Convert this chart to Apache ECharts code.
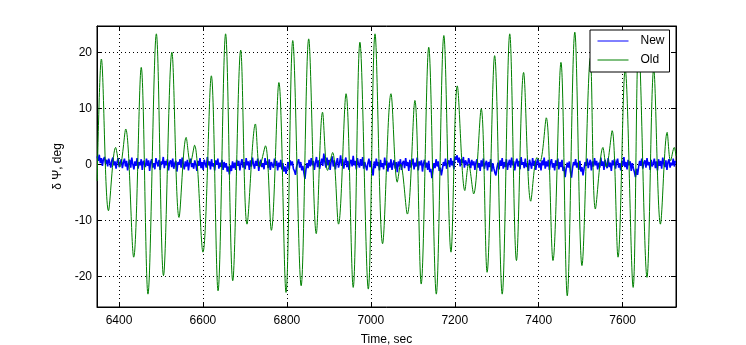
<!DOCTYPE html>
<html>
<head>
<meta charset="utf-8">
<script src="https://cdn.jsdelivr.net/npm/echarts@6/dist/echarts.min.js"></script>
<style>
  html, body { margin: 0; padding: 0; background: #fff; }
  #chart { width: 746px; height: 345px; }
</style>
</head>
<body>
<div id="chart"></div>
<script>
// Heading error of the old controller: turning points (time in s, error in deg)
const oldTime = [
  6348, 6358, 6375, 6392, 6402, 6416, 6435, 6453, 6469, 6489, 6506, 6526, 6543, 6560, 6570, 6580,
  6600, 6620, 6636, 6654, 6671, 6690, 6705, 6725, 6735, 6749, 6763, 6781, 6798, 6814, 6834, 6852,
  6870, 6885, 6897, 6909, 6923, 6941, 6958, 6974, 6994, 7010, 7028, 7048, 7063, 7071, 7087, 7105,
  7120, 7138, 7156, 7174, 7191, 7206, 7224, 7233, 7245, 7263, 7277, 7295, 7313, 7331, 7347, 7364,
  7381, 7396, 7403, 7418, 7434, 7453, 7468, 7486, 7503, 7523, 7535, 7553, 7561, 7575, 7589, 7606,
  7625, 7638, 7658, 7674, 7690, 7706, 7714, 7723, 7727
];
const oldDeg = [
  -3.0, 18.8, -8.3, 3.0, -0.5, 6.3, -16.6, 17.3, -23.2, 23.3, -19.9, 20.0, -9.5, 4.8, 0.2, 3.4,
  -15.7, 15.8, -22.6, 23.3, -20.8, 20.4, -10.7, 7.2, -0.5, 3.3, -11.8, 14.6, -22.9, 22.1, -21.7, 22.4,
  -12.4, 9.3, -1.1, 2.1, -10.7, 12.6, -22.0, 21.8, -22.3, 23.3, -14.2, 12.6, -3.2, 0.0, -8.9, 11.4,
  -21.4, 20.9, -23.2, 23.0, -15.7, 14.0, -4.7, 0.0, -5.3, 9.9, -19.3, 19.4, -23.2, 23.3, -17.2, 16.4,
  -6.6, 1.2, 0.5, 8.3, -17.2, 18.2, -23.5, 23.6, -18.1, 19.0, -8.0, 3.0, -0.5, 6.0, -16.6, 17.0,
  -22.0, 22.0, -20.2, 17.0, -10.7, 5.7, 0.6, 3.0, 1.5
];

// Heading error of the new controller, sampled every 2.5 s from 6348 s
const newStart = 6348;
const newStep = 2.5;
const newDeg = [
  1.4,0.6,1.7,0.2,1.1,-0.3,0.9,1.3,0.1,0.8,-0.4,1.0,0.3,-0.6,0.7,1.2,-0.2,0.5,-0.8,0.4,1.1,-0.5,0.2,0.9,
  -0.7,0.3,1.0,-0.4,0.6,-1.1,0.2,0.8,-0.6,1.2,0.0,-0.9,0.5,-0.3,1.1,-0.8,0.4,-0.2,0.9,-1.0,0.6,0.1,-0.5,1.0,
  -0.3,0.7,-1.2,0.4,0.9,-0.6,0.2,-0.9,1.1,0.3,-0.4,0.8,-1.0,0.5,0.0,1.3,-0.7,0.6,-0.2,0.9,-1.1,0.3,0.7,-0.5,
  1.0,-0.8,0.2,0.6,-1.3,0.4,-0.1,0.9,-0.6,1.2,0.1,-0.9,0.5,-0.4,0.8,-1.1,0.3,1.0,-0.5,0.2,-0.8,0.7,0.0,-1.2,
  0.6,-0.3,1.1,-0.7,0.4,-1.0,0.8,0.1,-0.6,1.3,-0.2,0.5,-0.9,0.9,-0.4,0.2,-1.1,0.7,-0.1,1.0,-0.8,0.3,-0.5,0.8,
  -1.0,0.4,-0.6,0.2,-1.3,-0.4,-1.8,-0.2,-1.2,0.5,-0.7,0.3,-1.0,0.8,-0.3,0.6,-1.1,0.2,0.9,-0.6,0.4,-0.9,1.1,-0.2,
  0.5,-1.0,0.7,-0.4,1.2,0.0,-0.8,0.6,-0.3,1.0,-1.2,0.3,0.8,-0.5,0.2,-0.9,1.1,-0.1,0.5,-0.7,0.9,-1.0,0.4,0.1,
  -0.6,1.0,-0.3,0.6,-1.1,0.3,-0.5,0.8,-0.9,0.2,-1.3,-0.4,-1.7,-0.6,0.4,-1.0,0.7,-0.2,0.5,-0.8,-1.2,-1.9,-0.5,0.3,
  0.9,-0.6,0.4,-1.1,-0.3,-1.5,-2.6,-0.9,0.2,-0.7,0.8,-0.4,1.1,-0.2,0.6,-1.0,0.3,1.3,-0.5,0.7,-0.8,0.2,1.0,-0.3,
  1.9,0.4,-0.6,1.2,-0.2,0.8,-1.0,0.5,1.4,-0.4,0.7,-0.9,0.3,1.1,-0.6,0.2,1.6,-0.3,0.9,-0.8,0.4,1.2,-0.5,0.6,
  -1.0,0.3,0.8,-0.4,1.5,-0.2,0.6,-0.9,1.1,0.1,-0.6,0.9,-0.3,1.3,-0.8,0.4,0.7,-1.1,0.2,1.0,-0.5,0.6,-1.2,-2.0,
  0.5,-0.7,1.0,-0.3,0.4,-1.1,0.8,-0.5,0.2,-0.9,1.2,-0.2,0.6,-1.3,0.3,-0.6,0.9,-1.0,0.1,0.7,-0.8,0.4,-1.4,0.5,
  -0.4,0.9,-1.0,0.2,0.6,-0.7,1.1,-0.3,0.4,-1.2,0.8,-0.6,0.1,1.0,-0.9,0.3,-0.4,1.2,-1.1,0.5,-0.2,0.7,-1.3,0.2,
  0.8,-0.6,0.3,-1.0,0.6,-1.4,-0.8,-2.5,-1.1,0.2,-0.7,0.9,-0.4,0.5,-1.2,-0.6,-2.0,-0.9,0.4,-0.3,1.0,-0.8,0.2,0.7,
  -0.5,1.1,-0.2,0.6,-0.9,1.4,0.8,1.6,0.3,1.2,-0.4,0.9,0.2,1.3,-0.6,0.7,1.0,-0.3,1.1,0.4,-0.7,0.8,-0.2,0.5,
  -1.0,0.3,0.9,-0.6,0.2,-1.2,0.7,-0.4,1.0,-0.8,0.1,0.6,-1.1,0.4,-0.5,0.9,-1.3,0.2,-0.7,-1.5,-2.0,-0.6,0.3,-0.9,
  0.7,-0.3,1.1,-0.8,0.4,-0.5,0.9,-1.0,0.2,0.8,-0.6,1.2,-0.2,0.5,-1.1,0.3,1.0,-0.4,0.6,-0.9,1.3,-0.1,0.4,-0.7,
  1.0,-0.5,0.2,-1.2,0.8,0.1,-0.8,1.1,-0.3,0.6,-1.0,0.4,0.9,-0.6,0.3,-1.1,0.7,-0.2,1.2,-0.8,0.5,-0.4,0.8,-1.0,
  0.3,0.9,-0.6,0.2,-1.1,0.7,-0.3,1.0,-0.9,0.4,-0.5,0.8,-1.2,-0.4,-2.3,-0.8,0.3,-0.6,0.5,-1.3,-2.4,-0.7,0.4,-0.2,
  0.9,-0.6,0.3,-1.0,0.6,-1.3,-0.5,-2.0,-0.8,0.4,-0.3,1.0,-0.7,0.2,0.8,-1.1,0.5,-0.4,1.1,-0.2,0.6,-0.9,0.3,-0.6,
  1.2,-0.3,0.5,-1.0,0.8,0.0,-0.7,1.1,-0.5,0.3,-1.2,0.7,-0.2,0.9,-0.8,0.4,1.0,-0.6,0.2,-1.1,0.6,-0.3,1.3,-0.5,
  0.4,-0.9,0.8,-0.2,0.5,-1.2,0.2,-0.7,-1.4,-2.3,-0.8,-1.9,-0.5,0.6,-0.3,1.0,-0.8,0.3,0.7,-0.6,1.1,-0.2,0.4,-1.0,
  0.8,-0.4,0.2,1.0,-0.7,0.5,-1.1,0.9,-0.3,0.6,-0.8,1.2,0.1,-0.5,0.7,-1.0,0.4,0.9,-0.6,0.3,-0.2,1.0,-0.4,0.6
];

// Axis extents
const xMin = 6347.6, xMax = 7727.1;
const yMin = -25.5, yMax = 24.7;

const FONT = '"Liberation Sans", Arial, Helvetica, sans-serif';
const BLACK = '#000';

const newSeries = newDeg.map((v, i) => [newStart + i * newStep, v]);
const oldSeries = oldTime.map((t, i) => [t, oldDeg[i]]);

const tickStyle = { show: true, inside: true, length: 5, lineStyle: { color: BLACK, width: 1 } };
const lineStyle = { show: true, onZero: false, lineStyle: { color: BLACK, width: 1 } };
const plainNumber = (v) => String(Math.round(v));
const labelStyle = {
  color: BLACK, fontFamily: FONT, fontSize: 12,
  showMinLabel: false, showMaxLabel: false, formatter: plainNumber
};
const dotted = { show: true, lineStyle: { color: BLACK, width: 1, type: [1, 3] } };

const chart = echarts.init(document.getElementById('chart'), null, { renderer: 'canvas' });
chart.setOption({
  animation: false,
  backgroundColor: '#fff',
  grid: {
    left: 97, top: 26, right: 70, bottom: 38,
    outerBoundsMode: 'none', containLabel: false,
    show: true, borderColor: BLACK, borderWidth: 1, backgroundColor: '#fff'
  },
  legend: {
    orient: 'vertical',
    left: 590, top: 30,
    padding: [5, 5, 6, 7],
    itemWidth: 31, itemHeight: 14, itemGap: 7,
    backgroundColor: '#fff', borderColor: BLACK, borderWidth: 1, borderRadius: 0,
    selectedMode: false,
    itemStyle: { color: 'rgba(0,0,0,0)', borderWidth: 0, opacity: 0 },
    lineStyle: { width: 1 },
    textStyle: { color: BLACK, fontFamily: FONT, fontSize: 12, padding: [0, 0, 0, 7] },
    data: ['New', 'Old']
  },
  xAxis: [
    {
      type: 'value', min: xMin, max: xMax, splitNumber: 7, position: 'bottom',
      axisLine: lineStyle, axisTick: tickStyle,
      axisLabel: Object.assign({ margin: 8 }, labelStyle),
      splitLine: dotted,
      name: 'Time, sec', nameLocation: 'middle', nameGap: 27,
      nameTextStyle: { color: BLACK, fontFamily: FONT, fontSize: 12 }
    },
    {
      type: 'value', min: xMin, max: xMax, splitNumber: 7, position: 'top',
      axisLine: lineStyle, axisTick: tickStyle, axisLabel: { show: false }, splitLine: { show: false }
    }
  ],
  yAxis: [
    {
      type: 'value', min: yMin, max: yMax, splitNumber: 5, position: 'left',
      axisLine: lineStyle, axisTick: tickStyle,
      axisLabel: Object.assign({ margin: 5 }, labelStyle),
      splitLine: dotted,
      name: 'δ Ψ, deg', nameLocation: 'middle', nameGap: 29,
      nameTextStyle: { color: BLACK, fontFamily: FONT, fontSize: 12 }
    },
    {
      type: 'value', min: yMin, max: yMax, splitNumber: 5, position: 'right',
      axisLine: lineStyle, axisTick: tickStyle, axisLabel: { show: false }, splitLine: { show: false }
    }
  ],
  series: [
    {
      name: 'New', type: 'line', xAxisIndex: 0, yAxisIndex: 0,
      data: newSeries, symbol: 'none', showSymbol: false,
      lineStyle: { color: '#0000ff', width: 1.6 }, itemStyle: { color: '#0000ff' },
      emphasis: { disabled: true }
    },
    {
      name: 'Old', type: 'line', xAxisIndex: 0, yAxisIndex: 0,
      data: oldSeries, symbol: 'none', showSymbol: false, smooth: 0.35,
      lineStyle: { color: '#008000', width: 1 }, itemStyle: { color: '#008000' },
      emphasis: { disabled: true }
    }
  ]
});
</script>
</body>
</html>
